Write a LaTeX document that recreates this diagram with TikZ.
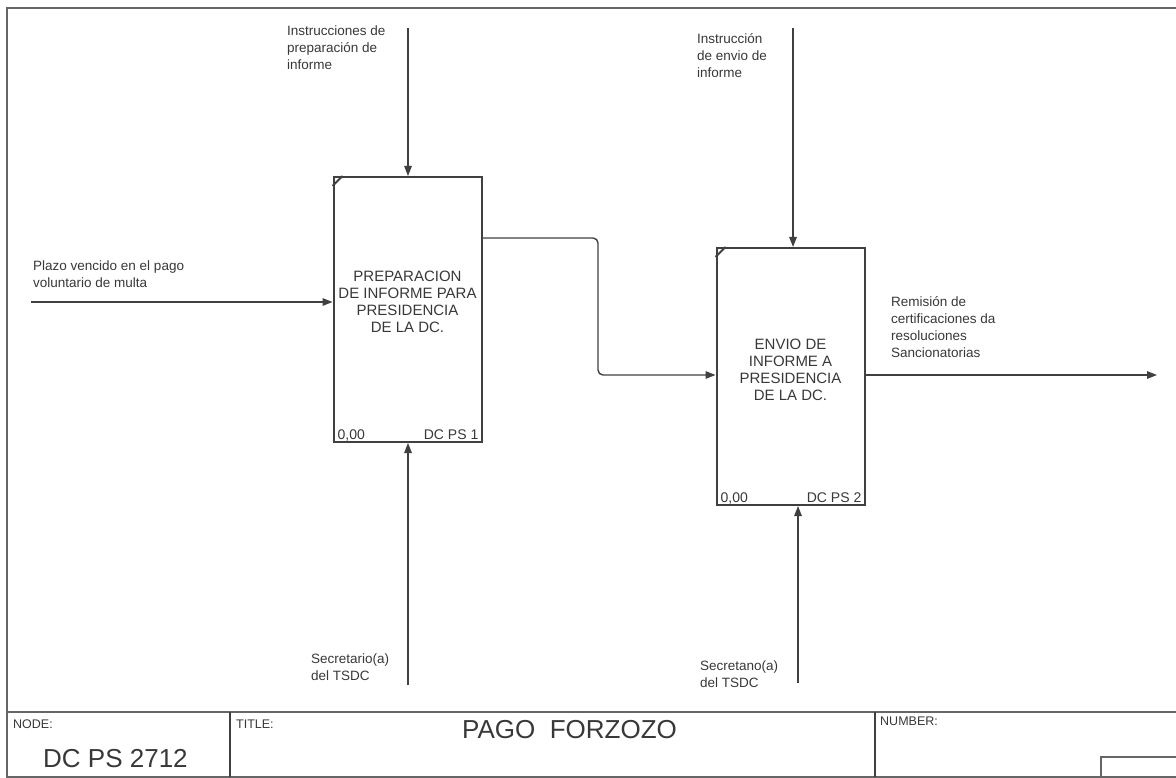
\documentclass[tikz,border=0pt]{standalone}
\usepackage{fontspec}
\setmainfont{Liberation Sans}
\usetikzlibrary{arrows.meta,positioning}
\definecolor{idefline}{gray}{0.25}
\definecolor{ideftext}{gray}{0.22}
\definecolor{sheetline}{gray}{0.4}

\tikzset{
  actbox/.style={draw=idefline, line width=2pt, minimum width=148pt, inner sep=0pt},
  acttext/.style={align=center, text=ideftext, font=\fontsize{15}{17}\selectfont, inner sep=0pt},
  tagtext/.style={text=ideftext, font=\fontsize{14}{16}\selectfont, inner sep=0pt},
  flowlbl/.style={align=left, anchor=north west, text=ideftext, font=\fontsize{13.5}{17}\selectfont, inner sep=0pt},
  flow/.style={draw=idefline, line width=1.4pt, -{Triangle[length=10pt,width=7.5pt]}},
  frameline/.style={draw=sheetline, line width=1.2pt},
  smalltag/.style={anchor=base west, text=ideftext, font=\fontsize{12.5}{14}\selectfont, inner sep=0pt},
  bigtag/.style={anchor=base west, text=ideftext, font=\fontsize{26}{30}\selectfont, inner sep=0pt}
}

\begin{document}
\begin{tikzpicture}[x=1pt, y=-1pt]
  \useasboundingbox (0,0) rectangle (1176,778);

  % sheet frame and title block
  \draw[frameline] (1176,8) -- (7,8) -- (7,777) -- (1176,777);
  \draw[frameline] (7,712) -- (1176,712);
  \draw[frameline, draw=idefline, line width=1.5pt] (230,712) -- (230,777);
  \draw[frameline, draw=idefline, line width=1.5pt] (875,712) -- (875,777);
  \draw[frameline] (1176,757) -- (1101,757) -- (1101,777);
  \node[smalltag] (nodetag) at (13,728) {NODE:};
  \node[bigtag] (nodeno) at (43,767) {DC PS 2712};
  \node[smalltag] (titletag) at (236,728) {TITLE:};
  \node[bigtag] (titletxt) at (462,738) {PAGO\ \ FORZOZO};
  \node[smalltag] (numtag) at (880,725) {NUMBER:};

  % activity boxes
  \node[actbox, minimum height=265pt] (prep) at (407.5,309.5) {};
  \node[actbox, minimum height=257pt] (envio) at (790.5,376.5) {};
  \node[acttext] (preptxt) at ([yshift=8pt]prep.center)
    {PREPARACION\\DE INFORME PARA\\PRESIDENCIA\\DE LA DC.};
  \node[acttext] (enviotxt) at ([yshift=7pt]envio.center)
    {ENVIO DE\\INFORME A\\PRESIDENCIA\\DE LA DC.};
  \draw[idefline, line width=1.8pt] ([yshift=-10pt]prep.north west) -- ([xshift=10pt]prep.north west);
  \draw[idefline, line width=1.8pt] ([yshift=-10pt]envio.north west) -- ([xshift=10pt]envio.north west);
  \node[tagtext, anchor=base west] (prepcost) at ([shift={(5pt,4pt)}]prep.south west) {0,00};
  \node[tagtext, anchor=base east] (prepno) at ([shift={(-4pt,4pt)}]prep.south east) {DC PS 1};
  \node[tagtext, anchor=base west] (enviocost) at ([shift={(5pt,4pt)}]envio.south west) {0,00};
  \node[tagtext, anchor=base east] (enviono) at ([shift={(-4pt,4pt)}]envio.south east) {DC PS 2};

  % free ends of the arrows
  \coordinate (ctl1) at (408,28);
  \coordinate (inp1) at (31,302);
  \coordinate (mec1) at (408,685);
  \coordinate (ctl2) at (793,28);
  \coordinate (mec2) at (798,683);
  \coordinate (out2) at (1157,375);
  \coordinate (bend1) at (598,238);
  \coordinate (bend2) at (598,375);

  % arrows
  \draw[flow] (ctl1) -- (ctl1 |- prep.north);
  \draw[flow] (inp1) -- (inp1 -| prep.west);
  \draw[flow] (mec1) -- (mec1 |- prep.south);
  \draw[flow, rounded corners=5pt] (prep.east |- bend1) -- (bend1) -- (bend2) -- (bend2 -| envio.west);
  \draw[flow] (ctl2) -- (ctl2 |- envio.north);
  \draw[flow] (mec2) -- (mec2 |- envio.south);
  \draw[flow] (envio.east |- out2) -- (out2);

  % arrow labels
  \node[flowlbl] (ctl1lbl) at (287,26) {Instrucciones de\\preparación de\\informe};
  \node[flowlbl] (inp1lbl) at (33,261) {Plazo vencido en el pago\\voluntario de multa};
  \node[flowlbl] (mec1lbl) at (311,654) {Secretario(a)\\del TSDC};
  \node[flowlbl] (ctl2lbl) at (697,33) {Instrucción\\de envio de\\informe};
  \node[flowlbl] (out2lbl) at (891,296) {Remisión de\\certificaciones da\\resoluciones\\Sancionatorias};
  \node[flowlbl] (mec2lbl) at (700,661) {Secretano(a)\\del TSDC};
\end{tikzpicture}
\end{document}
